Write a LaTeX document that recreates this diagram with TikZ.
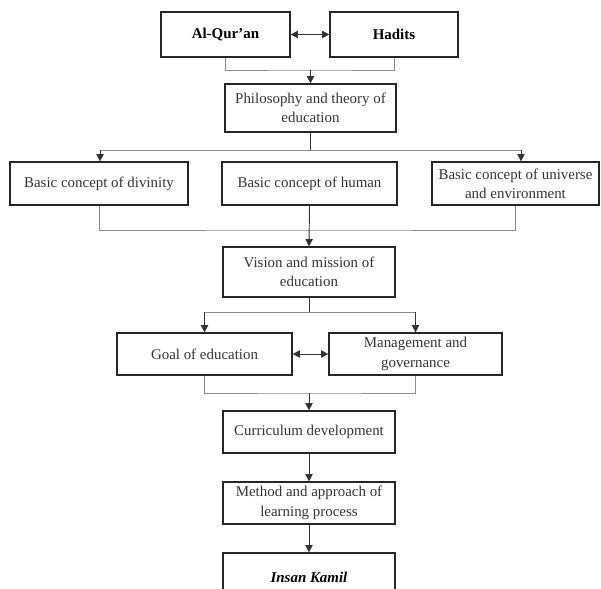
\documentclass[tikz,border=0pt]{standalone}
\usepackage{fontspec}
\setmainfont{Liberation Serif}
\usetikzlibrary{arrows.meta}
\begin{document}
\begin{tikzpicture}[x=0.75pt,y=-0.75pt,
  box/.style={draw=black!85, line width=0.9pt, align=center, inner sep=0pt,
    font=\fontsize{11.2}{14.5}\selectfont, text=black!80},
  link/.style={draw=black!45, line width=0.7pt},
  arr/.style={draw=black!80, line width=0.7pt, -{Triangle[length=5.5pt,width=5.5pt]}},
  darr/.style={draw=black!80, line width=0.7pt, {Triangle[length=5.5pt,width=5.5pt]}-{Triangle[length=5.5pt,width=5.5pt]}},
  plain/.style={draw=black!80, line width=0.7pt}]
\useasboundingbox (0,0) rectangle (601,589);
\clip (0,0) rectangle (601,589);
% boxes
\node[box, minimum width=96.75pt, minimum height=33.75pt, font=\fontsize{11.2}{14.5}\selectfont\bfseries, text=black] (quran) at (225.5,34.5) {Al-Qur’an};
\node[box, minimum width=96pt, minimum height=33.75pt, font=\fontsize{11.2}{14.5}\selectfont\bfseries, text=black] (hadits) at (394,34.5) {Hadits};
\node[box, minimum width=128.25pt, minimum height=36pt] (phil) at (310.5,108) {Philosophy and theory of\\education};
\node[box, minimum width=133.5pt, minimum height=32.25pt] (div) at (99,183.5) {Basic concept of divinity};
\node[box, minimum width=131.25pt, minimum height=32.25pt] (hum) at (309.5,183.5) {Basic concept of human};
\node[box, minimum width=125.25pt, minimum height=32.25pt] (uni) at (515.5,183.5) {Basic concept of universe\\and environment};
\node[box, minimum width=129pt, minimum height=37.5pt] (vis) at (309,272) {Vision and mission of\\education};
\node[box, minimum width=131.25pt, minimum height=31.5pt] (goal) at (204.5,354) {Goal of education};
\node[box, minimum width=129.75pt, minimum height=31.5pt] (man) at (415.5,354) {Management and\\governance};
\node[box, minimum width=129pt, minimum height=31.5pt] (cur) at (309,432) {Curriculum development};
\node[box, minimum width=129pt, minimum height=31.5pt] (met) at (309,503) {Method and approach of\\learning process};
\node[box, minimum width=129pt, minimum height=36pt, font=\fontsize{11.2}{14.5}\selectfont\bfseries\itshape, text=black] (ins) at (309,577) {Insan Kamil};
% junction coordinates
\coordinate (j1) at (310.5,70);
\coordinate (j2) at (310.5,150);
\coordinate (j2l) at (100,150);
\coordinate (j2r) at (521,150);
\coordinate (j3) at (309.5,230);
\coordinate (j4) at (309,312);
\coordinate (j4l) at (204.5,312);
\coordinate (j4r) at (415.5,312);
\coordinate (j5) at (309,393);
% connectors
\draw[darr] (quran.east) -- (hadits.west);
\draw[link] (quran.south) |- (j1) -| (hadits.south);
\draw[arr] (j1) -- (phil.north);
\draw[plain] (phil.south) -- (j2);
\draw[link] (j2l) -- (j2r);
\draw[arr] (j2l) -- (j2l |- div.north);
\draw[arr] (j2r) -- (j2r |- uni.north);
\draw[link] (div.south) |- (j3) -| (uni.south);
\draw[arr] (hum.south) -- (vis.north);
\draw[plain] (vis.south) -- (j4);
\draw[link] (j4l) -- (j4r);
\draw[arr] (j4l) -- (goal.north);
\draw[arr] (j4r) -- (man.north);
\draw[darr] (goal.east) -- (man.west);
\draw[link] (goal.south) |- (j5) -| (man.south);
\draw[arr] (j5) -- (cur.north);
\draw[arr] (cur.south) -- (met.north);
\draw[arr] (met.south) -- (ins.north);
\end{tikzpicture}
\end{document}
